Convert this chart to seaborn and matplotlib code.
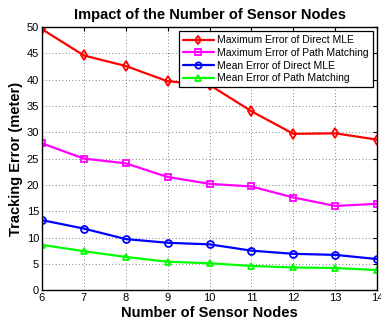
import matplotlib
matplotlib.use("Agg")
import matplotlib.pyplot as plt
import seaborn as sns
import pandas as pd

nodes = [6, 7, 8, 9, 10, 11, 12, 13, 14]
max_direct_mle = [49.6, 44.6, 42.6, 39.7, 39.0, 34.0, 29.7, 29.8, 28.6]
max_path_matching = [27.9, 25.0, 24.1, 21.5, 20.2, 19.7, 17.6, 16.0, 16.4]
mean_direct_mle = [13.3, 11.7, 9.7, 9.0, 8.7, 7.5, 6.9, 6.7, 5.9]
mean_path_matching = [8.6, 7.4, 6.3, 5.4, 5.1, 4.6, 4.3, 4.2, 3.8]

series_names = [
    "Maximum Error of Direct MLE",
    "Maximum Error of Path Matching",
    "Mean Error of Direct MLE",
    "Mean Error of Path Matching",
]
series_values = [max_direct_mle, max_path_matching, mean_direct_mle, mean_path_matching]
colors = ["#ff0000", "#ff00ff", "#0000ff", "#00ff00"]
markers = ["d", "s", "o", "^"]

rows = []
for name, vals in zip(series_names, series_values):
    for n, v in zip(nodes, vals):
        rows.append({"nodes": n, "error": v, "series": name})
df = pd.DataFrame(rows)

sns.set_style("white")
plt.rcParams["font.family"] = ["Liberation Sans", "DejaVu Sans"]
plt.rcParams["text.color"] = "black"
plt.rcParams["axes.labelcolor"] = "black"
plt.rcParams["xtick.color"] = "black"
plt.rcParams["ytick.color"] = "black"

fig = plt.figure(figsize=(3.81, 3.22), dpi=100)
ax = fig.add_axes([0.110, 0.099, 0.880, 0.817])

sns.lineplot(
    data=df, x="nodes", y="error", hue="series", style="series",
    hue_order=series_names, style_order=series_names,
    palette=colors, markers=markers, dashes=False,
    linewidth=1.6, markersize=5, markerfacecolor="none",
    markeredgewidth=1.3, ax=ax,
)
for line, c in zip(ax.get_lines(), colors):
    line.set_markeredgecolor(c)
    line.set_markerfacecolor("none")

ax.set_xlim(6, 14)
ax.set_ylim(0, 50)
ax.set_xticks(nodes)
ax.set_yticks(range(0, 51, 5))
ax.tick_params(direction="in", labelsize=8, length=3, width=0.8, pad=2,
               top=True, right=True)
ax.grid(True, color="#555555", linestyle=(0, (1, 3)), linewidth=0.6)
for s in ax.spines.values():
    s.set_color("black")
    s.set_linewidth(1.0)

ax.set_title("Impact of the Number of Sensor Nodes", fontsize=10.5,
             fontweight="bold", pad=6)
ax.set_xlabel("Number of Sensor Nodes", fontsize=10.5, fontweight="bold", labelpad=2)
ax.set_ylabel("Tracking Error (meter)", fontsize=10.5, fontweight="bold", labelpad=3)

leg = ax.legend(loc="upper right", fontsize=7.5, frameon=True, fancybox=False,
                borderpad=0.4, labelspacing=0.25, handlelength=3.0,
                handletextpad=0.3, borderaxespad=0.4, framealpha=1)
leg.get_frame().set_edgecolor("black")
leg.get_frame().set_linewidth(0.9)
for h, c in zip(leg.legend_handles, colors):
    h.set_markerfacecolor("none")
    h.set_markeredgecolor(c)
    h.set_markersize(4.5)

fig.savefig("out.png", dpi=100)
